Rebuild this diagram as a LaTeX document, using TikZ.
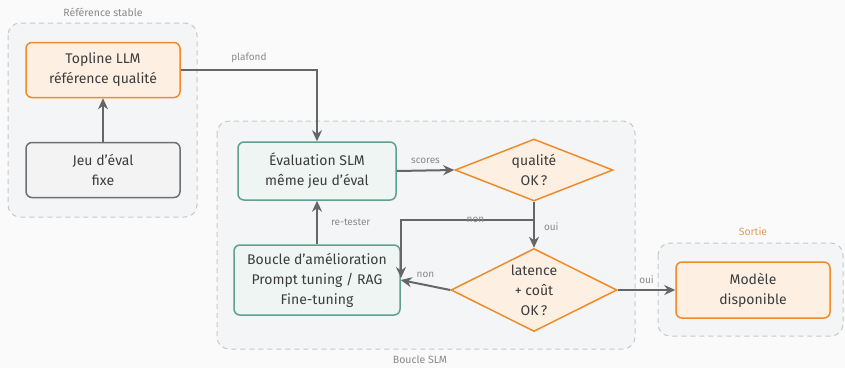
\documentclass[tikz,border=0pt]{standalone}
\usepackage{fontspec}
\setmainfont{Fira Sans}
\usetikzlibrary{shapes.geometric,arrows.meta}

\definecolor{bgcol}{HTML}{FAFAFA}
\definecolor{clfill}{HTML}{F4F5F6}
\definecolor{cldraw}{HTML}{C8C8C8}
\definecolor{edgecol}{HTML}{666666}
\definecolor{lblcol}{HTML}{8A8A8A}
\definecolor{txtcol}{HTML}{3C3C3C}
\definecolor{orstroke}{HTML}{EE8B2A}
\definecolor{orfill}{HTML}{FDF0E3}
\definecolor{tlstroke}{HTML}{5FA091}
\definecolor{tlfill}{HTML}{EEF5F3}
\definecolor{gystroke}{HTML}{707070}
\definecolor{gyfill}{HTML}{F3F3F3}
\definecolor{sortiecol}{HTML}{E39A58}

\tikzset{
  cluster/.style={draw=cldraw, fill=clfill, line width=1pt, dash pattern=on 5pt off 4pt, rounded corners=12pt},
  clusterlabel/.style={text=lblcol, font=\fontsize{10.5}{12}\selectfont},
  box/.style={rectangle, rounded corners=6pt, line width=1.5pt, align=center, text=txtcol,
    font=\fontsize{14}{20}\selectfont, inner sep=0pt},
  orbox/.style={box, draw=orstroke, fill=orfill},
  tlbox/.style={box, draw=tlstroke, fill=tlfill},
  gybox/.style={box, draw=gystroke, fill=gyfill},
  decision/.style={diamond, draw=orstroke, fill=orfill, line width=1.5pt, align=center, text=txtcol,
    font=\fontsize{14}{20}\selectfont, inner sep=0pt},
  edge/.style={draw=edgecol, line width=2pt, -{Stealth[length=11pt,width=10pt,inset=3.5pt]}},
  lbl/.style={text=lblcol, font=\fontsize{10}{12}\selectfont, inner sep=1pt},
}

\begin{document}
\begin{tikzpicture}[x=1pt, y=-1pt]
  \fill[bgcol] (0,0) rectangle (845,368);
  \useasboundingbox (0,0) rectangle (845,368);

  % groups
  \draw[cluster] (8,23) rectangle (197,217);
  \node[clusterlabel] (lblref) at (103,12) {Référence stable};
  \draw[cluster] (217,121) rectangle (635,349);
  \node[clusterlabel] (lblslm) at (420,360) {Boucle SLM};
  \draw[cluster] (658,243) rectangle (843,336);
  \node[clusterlabel, text=sortiecol] (lblout) at (753,231) {Sortie};

  % nodes
  \node[orbox, minimum width=154pt, minimum height=55pt] (top) at (103,70) {Topline LLM\\référence qualité};
  \node[gybox, minimum width=154pt, minimum height=55pt] (jeu) at (103,170) {Jeu d’éval\\fixe};
  \node[tlbox, minimum width=158pt, minimum height=58pt] (eval) at (317,171) {Évaluation SLM\\même jeu d’éval};
  \node[tlbox, minimum width=166pt, minimum height=70pt] (loop) at (317,280) {Boucle d’amélioration\\Prompt tuning / RAG\\Fine-tuning};
  \node[decision, shape aspect=2.55, minimum width=158pt, minimum height=62pt] (qual) at (534,170) {qualité\\OK\,?};
  \node[decision, shape aspect=2, minimum width=166pt, minimum height=83pt] (lat) at (534,290) {latence\\+ coût\\OK\,?};
  \node[orbox, minimum width=154pt, minimum height=56pt] (out) at (753,290) {Modèle\\disponible};

  \coordinate (split) at (534,220);
  \coordinate (loopin) at (401,278);

  % connectors
  \draw[edge] (jeu.north) -- (top.south);
  \draw[edge] (top.east) -| (eval.north) node[lbl, pos=0.25, above=5pt] {plafond};
  \draw[edge] (eval.east) -- (qual.west) node[lbl, midway, above=5pt] {scores};
  \draw[edge] (qual.south) -- (lat.north) node[lbl, pos=0.55, right=8pt] {oui};
  \draw[edge] (split) -| (loopin) node[lbl, pos=0.22] {non};
  \draw[edge] (lat.west) -- (loop.east) node[lbl, midway, above=5pt] {non};
  \draw[edge] (lat.east) -- (out.west) node[lbl, midway, above=4pt] {oui};
  \draw[edge] (loop.north) -- (eval.south) node[lbl, midway, right=12pt] {re-tester};
\end{tikzpicture}
\end{document}
